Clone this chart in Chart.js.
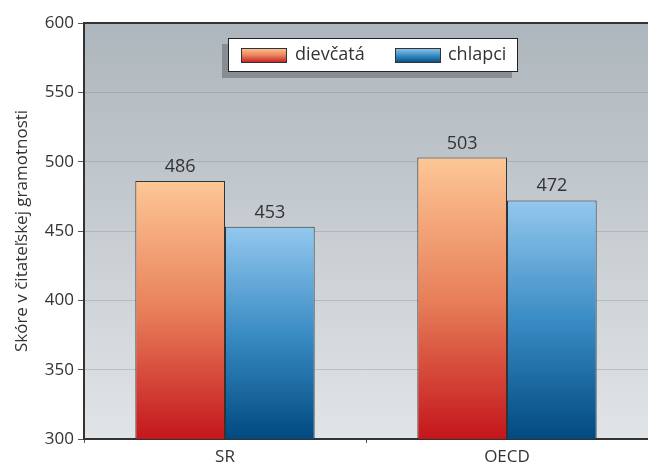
<!DOCTYPE html>
<html>
<head>
<meta charset="utf-8">
<script src="https://cdn.jsdelivr.net/npm/chart.js@4.4.1/dist/chart.umd.min.js"></script>
<style>
  html, body { margin: 0; padding: 0; background: #ffffff; }
  #wrap { width: 648px; height: 464px; position: relative; }
</style>
</head>
<body>
<div id="wrap"><canvas id="c" width="648" height="464"></canvas></div>
<script>
// Reading literacy scores by gender
const categories = ['SR', 'OECD'];
const seriesNames = ['dievčatá', 'chlapci'];
const girls = [486, 503];
const boys = [453, 472];
const yTicks = [300, 350, 400, 450, 500, 550, 600];
const yTitle = 'Skóre v čitateľskej gramotnosti';

const FONT = '"Open Sans", "Noto Sans", sans-serif';
const TEXT = '#333333';

// vertical gradient stops (top, middle, bottom) for each series
const gradStops = [
  ['#fdc796', '#e8805a', '#c4161c'],
  ['#93c8ee', '#3a8cc4', '#004a80']
];

function barGradient(context) {
  const chart = context.chart;
  const area = chart.chartArea;
  if (!area) return gradStops[context.datasetIndex][0];
  const y = chart.scales.y;
  const top = y.getPixelForValue(context.raw);
  const bottom = y.getPixelForValue(y.min);
  const g = chart.ctx.createLinearGradient(0, top, 0, bottom);
  const s = gradStops[context.datasetIndex];
  g.addColorStop(0, s[0]);
  g.addColorStop(0.5, s[1]);
  g.addColorStop(1, s[2]);
  return g;
}

// plot-area background and top border
const plotBackground = {
  id: 'plotBackground',
  beforeDraw(chart) {
    const { ctx, chartArea: a } = chart;
    const g = ctx.createLinearGradient(0, a.top, 0, a.bottom);
    g.addColorStop(0, '#adb6bc');
    g.addColorStop(1, '#e1e4e7');
    ctx.save();
    ctx.fillStyle = g;
    ctx.fillRect(a.left, a.top, a.right - a.left, a.bottom - a.top);
    ctx.restore();
  },
  afterDraw(chart) {
    const { ctx, chartArea: a } = chart;
    ctx.save();
    ctx.strokeStyle = '#333333';
    ctx.lineWidth = 2;
    ctx.beginPath();
    ctx.moveTo(a.left - 1, a.top);
    ctx.lineTo(chart.width, a.top);
    ctx.stroke();
    ctx.restore();
  }
};

// value labels above bars
const valueLabels = {
  id: 'valueLabels',
  afterDatasetsDraw(chart) {
    const ctx = chart.ctx;
    ctx.save();
    ctx.font = '18px ' + FONT;
    ctx.fillStyle = TEXT;
    ctx.textAlign = 'center';
    ctx.textBaseline = 'alphabetic';
    chart.data.datasets.forEach((ds, i) => {
      chart.getDatasetMeta(i).data.forEach((bar, j) => {
        ctx.fillText(String(ds.data[j]), bar.x, bar.y - 9);
      });
    });
    ctx.restore();
  }
};

// boxed legend with drop shadow
const boxLegend = {
  id: 'boxLegend',
  afterDraw(chart) {
    const ctx = chart.ctx;
    const x = 228, y = 38, w = 290, h = 34;
    ctx.save();
    ctx.fillStyle = '#878d92';
    ctx.fillRect(x - 6, y + 6, w, h);
    ctx.fillStyle = '#ffffff';
    ctx.fillRect(x, y, w, h);
    ctx.strokeStyle = '#222222';
    ctx.lineWidth = 1;
    ctx.strokeRect(x + 0.5, y + 0.5, w - 1, h - 1);
    const items = [
      { sx: 241, tx: 295 },
      { sx: 395, tx: 448 }
    ];
    ctx.font = '18px ' + FONT;
    ctx.textBaseline = 'middle';
    ctx.textAlign = 'left';
    chart.data.datasets.forEach((ds, i) => {
      const it = items[i];
      const sy = 48, sh = 15, sw = 46;
      const g = ctx.createLinearGradient(0, sy, 0, sy + sh);
      const s = gradStops[i];
      g.addColorStop(0, s[0]);
      g.addColorStop(0.5, s[1]);
      g.addColorStop(1, s[2]);
      ctx.fillStyle = g;
      ctx.fillRect(it.sx, sy, sw, sh);
      ctx.strokeStyle = '#333333';
      ctx.strokeRect(it.sx + 0.5, sy + 0.5, sw - 1, sh - 1);
      ctx.fillStyle = TEXT;
      ctx.fillText(ds.label, it.tx, y + h / 2);
    });
    ctx.restore();
  }
};

new Chart(document.getElementById('c'), {
  type: 'bar',
  data: {
    labels: categories,
    datasets: [
      { label: seriesNames[0], data: girls, backgroundColor: barGradient },
      { label: seriesNames[1], data: boys, backgroundColor: barGradient }
    ]
  },
  options: {
    responsive: false,
    animation: false,
    devicePixelRatio: 1,
    layout: { padding: { top: 23, right: 0, bottom: 0, left: 12 } },
    datasets: {
      bar: {
        categoryPercentage: 0.636,
        barPercentage: 1.0,
        borderColor: '#333333',
        borderWidth: 1,
        borderSkipped: 'bottom'
      }
    },
    plugins: {
      legend: { display: false },
      tooltip: { enabled: false }
    },
    scales: {
      x: {
        afterFit(s) { s.height = 25; },
        grid: {
          offset: true,
          drawOnChartArea: false,
          tickLength: 4,
          tickColor: '#555555'
        },
        border: { color: '#333333', width: 2 },
        ticks: { color: TEXT, font: { family: FONT, size: 17 }, padding: 4 }
      },
      y: {
        min: 300,
        max: 600,
        afterFit(s) { s.width = 72; },
        afterBuildTicks(s) { s.ticks = yTicks.map(v => ({ value: v })); },
        grid: {
          color: 'rgba(130,140,146,0.35)',
          lineWidth: 1,
          tickLength: 6,
          tickColor: '#555555'
        },
        border: { color: '#333333', width: 2 },
        ticks: { color: TEXT, font: { family: FONT, size: 17 }, padding: 4 },
        title: {
          display: true,
          text: yTitle,
          color: TEXT,
          font: { family: FONT, size: 17 },
          padding: { top: 0, bottom: 2 }
        }
      }
    }
  },
  plugins: [plotBackground, valueLabels, boxLegend]
});
</script>
</body>
</html>
